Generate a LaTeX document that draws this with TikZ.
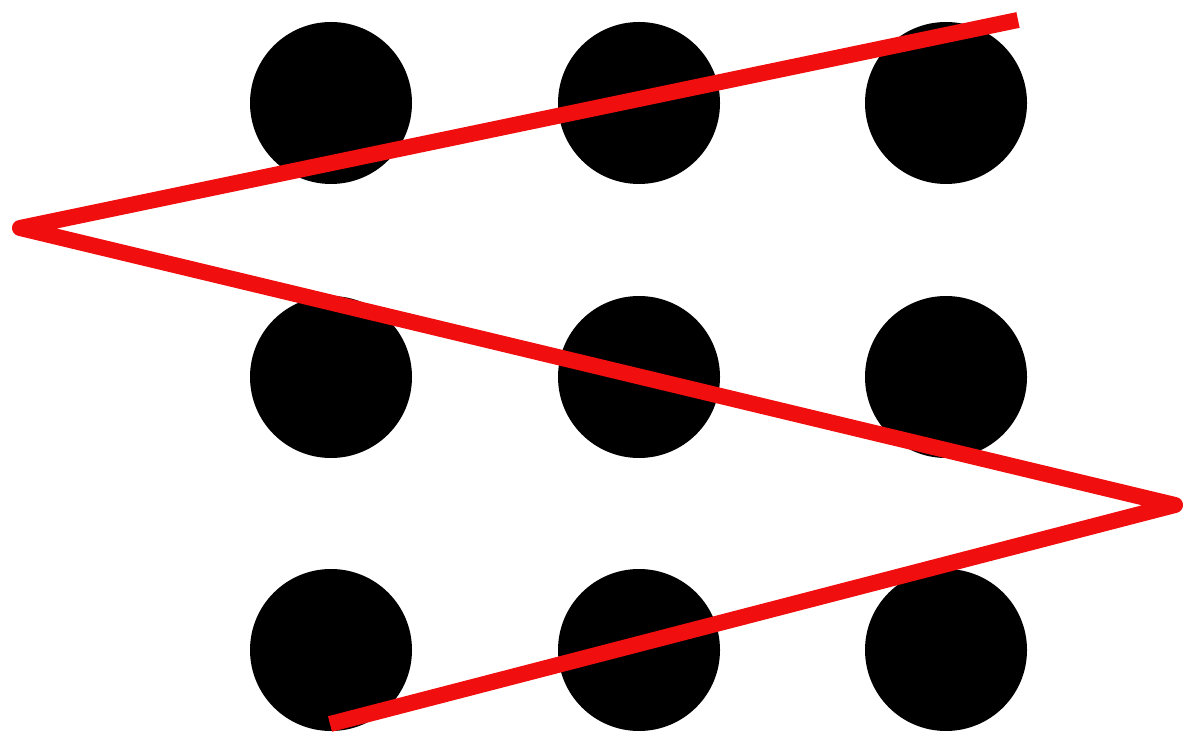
\documentclass[tikz,border=0pt]{standalone}
\usepackage{xcolor}
\usepackage{tikz}
\definecolor{pathred}{HTML}{F00E0E}

\begin{document}
\begin{tikzpicture}[
  dot/.style={circle, fill=black, draw=none, inner sep=0pt, minimum size=1.62cm},
  cutline/.style={line width=0.16cm, color=pathred, line join=round}
]
  \useasboundingbox (0,0) rectangle (11.84,7.39);

  % the nine dots
  \foreach \row/\y in {1/6.36, 2/3.62, 3/0.89}
    \foreach \col/\x in {1/3.31, 2/6.39, 3/9.46}
      \node[dot] (dot-\row-\col) at (\x,\y) {};

  % turning points of the four strokes
  \coordinate (start) at (10.18,7.19);
  \coordinate (leftturn) at (0.20,5.11);
  \coordinate (rightturn) at (11.75,2.34);
  \coordinate (finish) at (3.30,0.15);

  \draw[cutline] (start) -- (leftturn) -- (rightturn) -- (finish);
\end{tikzpicture}
\end{document}
